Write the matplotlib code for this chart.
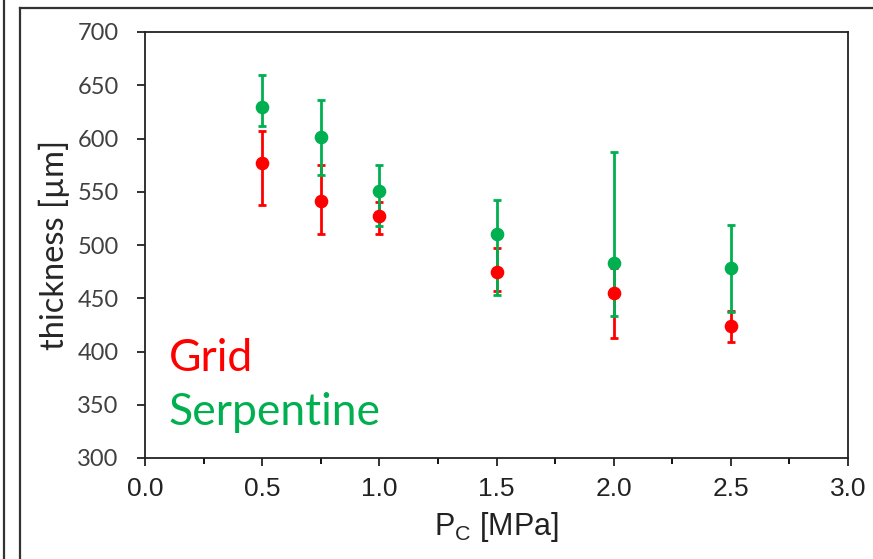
import matplotlib
matplotlib.use("Agg")
import matplotlib.pyplot as plt
from matplotlib.lines import Line2D
from matplotlib.ticker import MultipleLocator
import numpy as np

plt.rcParams['mathtext.fontset'] = 'custom'
plt.rcParams['mathtext.rm'] = 'Liberation Sans'

# ---- data ----
pressure = [0.5, 0.75, 1.0, 1.5, 2.0, 2.5]
grid_mean = [577, 541, 527, 475, 455, 424]
grid_low = [538, 510, 510, 457, 413, 409]
grid_high = [607, 575, 540, 497, 478, 438]
serp_mean = [630, 601, 551, 510, 483, 478]
serp_low = [612, 566, 518, 453, 433, 437]
serp_high = [660, 636, 575, 542, 587, 519]

RED = '#FF0000'
GREEN = '#00B050'

W, H = 873, 559
fig = plt.figure(figsize=(W / 100, H / 100), dpi=100)
ax = fig.add_axes([145 / W, 1 - 458 / H, (848 - 145) / W, (458 - 32) / H])

def err(mean, lo, hi):
    m = np.array(mean); return [m - np.array(lo), np.array(hi) - m]

ax.errorbar(pressure, grid_mean, yerr=err(grid_mean, grid_low, grid_high), fmt='none',
            ecolor=RED, elinewidth=2, capsize=3, capthick=2, zorder=2)
ax.errorbar(pressure, serp_mean, yerr=err(serp_mean, serp_low, serp_high), fmt='none',
            ecolor=GREEN, elinewidth=2, capsize=3, capthick=2, zorder=3)
ax.plot(pressure, serp_mean, 'o', color=GREEN, markersize=8.8, zorder=4)
ax.plot(pressure, grid_mean, 'o', color=RED, markersize=8.8, zorder=5)

ax.set_xlim(0, 3.0)
ax.set_ylim(300, 700)
ax.xaxis.set_minor_locator(MultipleLocator(0.25))
ax.yaxis.set_major_locator(MultipleLocator(50))
ax.set_xticks(np.arange(0, 3.01, 0.5))
ax.set_xticklabels([f'{v:.1f}' for v in np.arange(0, 3.01, 0.5)])

for s in ax.spines.values():
    s.set_linewidth(1.3)
    s.set_color('#222222')

ax.tick_params(axis='x', which='major', direction='out', length=6, width=1.3, pad=8,
               labelsize=19, colors='#222222')
ax.tick_params(axis='x', which='minor', direction='out', length=4.5, width=1.3)
ax.tick_params(axis='y', which='major', direction='out', length=6, width=1.3, pad=13,
               labelsize=17, colors='#222222', labelcolor='#404040')
for lab in ax.get_xticklabels():
    lab.set_family('Liberation Sans')
for lab in ax.get_yticklabels():
    lab.set_family('Lato')

ax.set_xlabel(r'P$_\mathrm{C}$ [MPa]', fontsize=22, family='Liberation Sans', color='#222222', labelpad=6)
ax.set_ylabel('thickness [µm]', fontsize=23.5, family='Lato', color='#262626', labelpad=5)

ax.text(0.1, 382, 'Grid', color=RED, fontsize=32, family='Lato', va='baseline', ha='left')
ax.text(0.1, 331, 'Serpentine', color=GREEN, fontsize=32, family='Lato', va='baseline', ha='left')

# outer frame lines
def fl(x0, y0, x1, y1):
    fig.add_artist(Line2D([x0 / W, x1 / W], [1 - y0 / H, 1 - y1 / H], color='#333333', lw=1.6))
fl(20, 8, 20, H)
fl(20, 8, W, 8)
fl(4, 0, 4, H)

fig.savefig('out.png', dpi=100)
